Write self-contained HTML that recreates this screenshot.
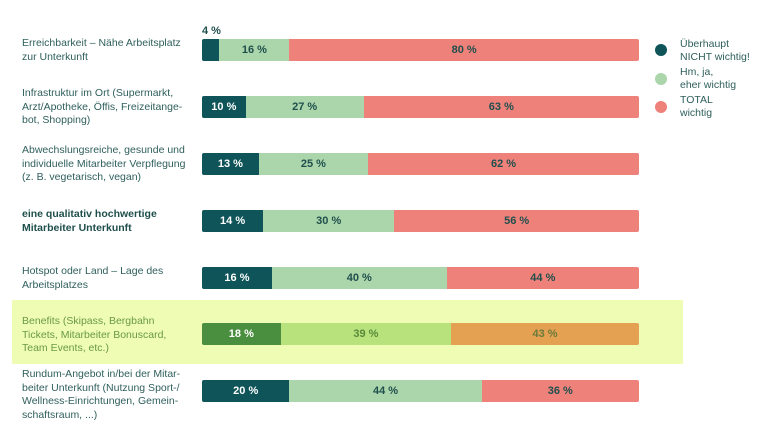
<!DOCTYPE html>
<html><head><meta charset="utf-8"><style>
body{margin:0;width:768px;height:441px;background:#fff;font-family:"Liberation Sans",sans-serif;position:relative;overflow:hidden}
.hl{position:absolute;left:12px;top:300px;width:671px;height:64px;background:#eefcb4}
.lab{position:absolute;left:22px;font-size:10.5px;line-height:13.5px;color:#2f5f5c}
.bar{position:absolute;left:202px;width:437px;height:22px;display:flex;border-radius:2px;overflow:hidden}
.bar div{display:flex;align-items:center;justify-content:center;font-size:11px;font-weight:bold;color:#1f4f4c}
.a{background:#0e5458;color:#fff!important}.b{background:#abd5ab}.c{background:#ef817b}
.lg{position:absolute;left:655px;width:12px;height:12px;border-radius:50%}
.lt{position:absolute;left:680px;font-size:10.5px;line-height:13px;color:#2f5f5c}
</style></head><body>
<div class="hl"></div>
<div class="lab" style="top:37px">Erreichbarkeit – Nähe Arbeitsplatz<br>zur Unterkunft</div>
<div style="position:absolute;left:202px;top:25px;font-size:11px;font-weight:bold;color:#1f4f4c">4 %</div>
<div class="bar" style="top:39px"><div class="a" style="width:4%"></div><div class="b" style="width:16%">16 %</div><div class="c" style="width:80%">80 %</div></div>
<div class="lab" style="top:87px">Infrastruktur im Ort (Supermarkt,<br>Arzt/Apotheke, Öffis, Freizeitange-<br>bot, Shopping)</div>
<div class="bar" style="top:96px"><div class="a" style="width:10%">10 %</div><div class="b" style="width:27%">27 %</div><div class="c" style="width:63%">63 %</div></div>
<div class="lab" style="top:144px">Abwechslungsreiche, gesunde und<br>individuelle Mitarbeiter Verpflegung<br>(z. B. vegetarisch, vegan)</div>
<div class="bar" style="top:153px"><div class="a" style="width:13%">13 %</div><div class="b" style="width:25%">25 %</div><div class="c" style="width:62%">62 %</div></div>
<div class="lab" style="top:208px;font-weight:bold;color:#1f4f4c">eine qualitativ hochwertige<br>Mitarbeiter Unterkunft</div>
<div class="bar" style="top:210px"><div class="a" style="width:14%">14 %</div><div class="b" style="width:30%">30 %</div><div class="c" style="width:56%">56 %</div></div>
<div class="lab" style="top:265px">Hotspot oder Land – Lage des<br>Arbeitsplatzes</div>
<div class="bar" style="top:267px"><div class="a" style="width:16%">16 %</div><div class="b" style="width:40%">40 %</div><div class="c" style="width:44%">44 %</div></div>
<div class="lab" style="top:315px;color:#6b9a45">Benefits (Skipass, Bergbahn<br>Tickets, Mitarbeiter Bonuscard,<br>Team Events, etc.)</div>
<div class="bar" style="top:323px"><div style="width:18%;background:#4a8f3f;color:#fff">18 %</div><div style="width:39%;background:#b7e27c;color:#5a8a3a">39 %</div><div style="width:43%;background:#e5a152;color:#6a7a3a">43 %</div></div>
<div class="lab" style="top:368px">Rundum-Angebot in/bei der Mitar-<br>beiter Unterkunft (Nutzung Sport-/<br>Wellness-Einrichtungen, Gemein-<br>schaftsraum, ...)</div>
<div class="bar" style="top:380px"><div class="a" style="width:20%">20 %</div><div class="b" style="width:44%">44 %</div><div class="c" style="width:36%">36 %</div></div>
<div class="lg" style="top:44px;background:#0e5458"></div>
<div class="lt" style="top:38px">Überhaupt<br>NICHT wichtig!</div>
<div class="lg" style="top:73px;background:#abd5ab"></div>
<div class="lt" style="top:66px">Hm, ja,<br>eher wichtig</div>
<div class="lg" style="top:101px;background:#ef817b"></div>
<div class="lt" style="top:94px">TOTAL<br>wichtig</div>
</body></html>
